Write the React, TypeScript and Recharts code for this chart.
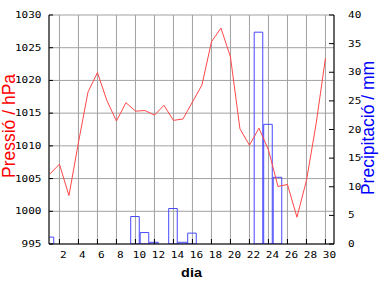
import { ComposedChart, Line, Bar, XAxis, YAxis, CartesianGrid } from "recharts";

// dies del mes
const days = [
  1, 2, 3, 4, 5, 6, 7, 8, 9, 10, 11, 12, 13, 14, 15,
  16, 17, 18, 19, 20, 21, 22, 23, 24, 25, 26, 27, 28, 29, 30,
];

// pressió (hPa)
const pressure = [
  1005.7, 1007.2, 1002.4, 1010.5, 1018.2, 1021.2, 1016.9, 1013.8, 1016.6, 1015.3,
  1015.4, 1014.7, 1016.2, 1013.9, 1014.1, 1016.7, 1019.3, 1025.9, 1028.0, 1023.6,
  1012.6, 1010.1, 1012.7, 1009.4, 1003.8, 1004.1, 999.1, 1004.7, 1013.2, 1023.4,
];

// precipitació (mm)
const rain = [
  1.2, 0, 0, 0, 0, 0, 0, 0, 0, 4.8,
  2.0, 0.3, 0, 6.2, 0.3, 1.9, 0, 0, 0, 0,
  0, 0, 37.0, 20.9, 11.65, 0, 0, 0, 0, 0,
];

const dayTicks = [2, 4, 6, 8, 10, 12, 14, 16, 18, 20, 22, 24, 26, 28, 30];
const pressureTicks = [995, 1000, 1005, 1010, 1015, 1020, 1025, 1030];
const rainTicks = [0, 5, 10, 15, 20, 25, 30, 35, 40];

const data = days.map((d, i) => ({ dia: d, pres: pressure[i], prec: rain[i] }));

const MONO = "'DejaVu Sans Mono', monospace";
const SANS = "'Liberation Sans', Arial, sans-serif";

const tickText = (x: number, y: number, anchor: string, value: any) => (
  <text
    transform={`translate(${x},${y}) scale(1.3,1)`}
    textAnchor={anchor}
    fontFamily={MONO}
    fontSize={8.5}
    fill="#000"
  >
    {value}
  </text>
);

function BottomTick({ x, y, payload }: any) {
  return (
    <g>
      <line x1={x} x2={x} y1={y} y2={y - 5} stroke="#000" />
      {tickText(x + 4, y + 13.5, "middle", payload.value)}
    </g>
  );
}

function TopTick({ x, y }: any) {
  return <line x1={x} x2={x} y1={y} y2={y + 4} stroke="#000" />;
}

function LeftTick({ x, y, payload }: any) {
  return (
    <g>
      <line x1={x} x2={x + 4} y1={y} y2={y} stroke="#000" />
      {tickText(x - 7.5, y + 3, "end", payload.value)}
    </g>
  );
}

function RightTick({ x, y, payload }: any) {
  return (
    <g>
      <line x1={x} x2={x - 5} y1={y} y2={y} stroke="#000" />
      {tickText(x + 14, y + 3, "start", payload.value)}
    </g>
  );
}

export default function App() {
  return (
    <div style={{ position: "absolute", left: 0, top: 0, width: 384, height: 288, background: "#fff" }}>
      <ComposedChart width={384} height={288} data={data} margin={{ top: 15, right: 0, bottom: 0, left: 0 }}>
        <CartesianGrid xAxisId="d" yAxisId="p" stroke="#a0a0a0" />
        <XAxis
          xAxisId="d"
          dataKey="dia"
          type="number"
          domain={[0.9, 30.9]}
          allowDataOverflow
          ticks={dayTicks}
          interval={0}
          height={44}
          tickSize={0}
          tickMargin={0}
          tickLine={false}
          axisLine={{ stroke: "#000" }}
          tick={<BottomTick />}
        />
        <XAxis
          xAxisId="top"
          orientation="top"
          dataKey="dia"
          type="number"
          domain={[0.9, 30.9]}
          allowDataOverflow
          ticks={dayTicks}
          interval={0}
          height={0}
          tickSize={0}
          tickMargin={0}
          tickLine={false}
          axisLine={{ stroke: "#000" }}
          tick={<TopTick />}
        />
        <YAxis
          yAxisId="p"
          domain={[995, 1030]}
          allowDataOverflow
          ticks={pressureTicks}
          interval={0}
          width={49}
          tickSize={0}
          tickMargin={0}
          tickLine={false}
          axisLine={{ stroke: "#000" }}
          tick={<LeftTick />}
        />
        <YAxis
          yAxisId="r"
          orientation="right"
          domain={[0, 40]}
          allowDataOverflow
          ticks={rainTicks}
          interval={0}
          width={50}
          tickSize={0}
          tickMargin={0}
          tickLine={false}
          axisLine={{ stroke: "#000" }}
          tick={<RightTick />}
        />
        <Line
          xAxisId="d"
          yAxisId="p"
          dataKey="pres"
          type="linear"
          stroke="#ff4848"
          strokeWidth={1}
          dot={false}
          isAnimationActive={false}
        />
        <Bar
          xAxisId="d"
          yAxisId="r"
          dataKey="prec"
          barSize={9.5}
          fill="none"
          stroke="#4848ff"
          strokeWidth={1}
          isAnimationActive={false}
        />
      </ComposedChart>
      <svg width={384} height={288} style={{ position: "absolute", left: 0, top: 0, pointerEvents: "none" }}>
        <text
          transform="translate(14.5,126) rotate(-90)"
          textAnchor="middle"
          fontFamily={SANS}
          fontSize={17.5}
          fill="#ff0000"
        >
          Pressió / hPa
        </text>
        <text
          transform="translate(374,128) rotate(-90)"
          textAnchor="middle"
          fontFamily={SANS}
          fontSize={17.5}
          fill="#0000ff"
        >
          Precipitació / mm
        </text>
        <text
          transform="translate(191.5,277) scale(1.2,1)"
          textAnchor="middle"
          fontFamily={SANS}
          fontWeight="bold"
          fontSize={12}
          fill="#000"
        >
          dia
        </text>
      </svg>
    </div>
  );
}
